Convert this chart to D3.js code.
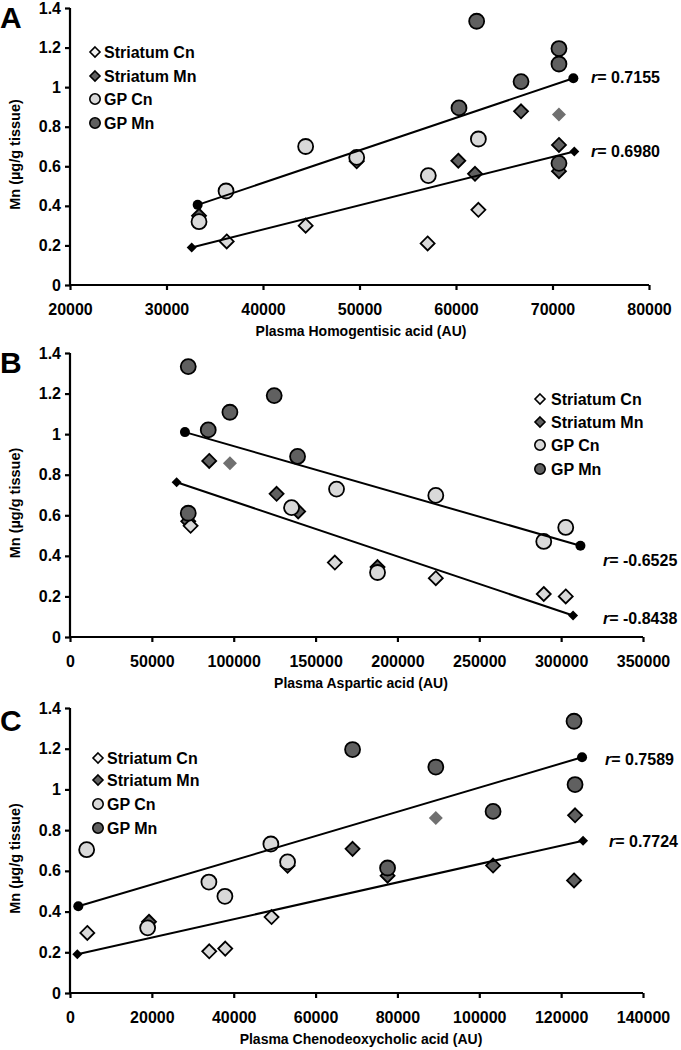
<!DOCTYPE html>
<html>
<head>
<meta charset="utf-8">
<script src="https://cdn.jsdelivr.net/npm/d3@7/dist/d3.min.js"></script>
<style>
  html, body { margin: 0; padding: 0; background: #fff; }
  svg { display: block; }
  text { font-family: "Liberation Sans", Arial, sans-serif; font-weight: bold; fill: #000; }
</style>
</head>
<body>
<div id="chart"></div>
<script>
// ---------- Data ----------
const seriesNames = ["Striatum Cn", "Striatum Mn", "GP Cn", "GP Mn"];
const yTicks = [0, 0.2, 0.4, 0.6, 0.8, 1, 1.2, 1.4];

// Panel A – Plasma Homogentisic acid
const aXTicks = [20000, 30000, 40000, 50000, 60000, 70000, 80000];
const aStriatumCn = [[36240,0.22],[44420,0.30],[62320,0.38],[57060,0.21]];
const aStriatumMn = [[33370,0.35],[49710,0.625],[60240,0.628],[61970,0.562],[66740,0.878],[70670,0.708],[70670,0.575]];
const aStriatumMnOutlier = [[70670,0.862]];
const aGPCn = [[33370,0.32],[36170,0.475],[44420,0.70],[49710,0.645],[57130,0.553],[62320,0.738]];
const aGPMn = [[62140,1.333],[70670,1.195],[70670,1.117],[66740,1.028],[60310,0.895],[70670,0.615]];
const aGPFit = [[33230,0.405],[72160,1.045]];
const aStriatumFit = [[32610,0.19],[72260,0.675]];
const aR = ["0.7155", "0.6980"];

// Panel B – Plasma Aspartic acid
const bXTicks = [0, 50000, 100000, 150000, 200000, 250000, 300000, 350000];
const bStriatumCn = [[73670,0.548],[161780,0.367],[223440,0.29],[289380,0.212],[302810,0.20]];
const bStriatumMn = [[72230,0.57],[85040,0.868],[126200,0.706],[139370,0.619],[187850,0.345]];
const bStriatumMnOutlier = [[97680,0.856]];
const bGPCn = [[135330,0.638],[162810,0.729],[187850,0.318],[223440,0.698],[289380,0.471],[302810,0.54]];
const bGPMn = [[72230,1.333],[124730,1.19],[97680,1.108],[84440,1.021],[139000,0.89],[72230,0.61]];
const bGPFit = [[70210,1.01],[311780,0.45]];
const bStriatumFit = [[65140,0.763],[307280,0.106]];
const bR = ["-0.6525", "-0.8438"];

// Panel C – Plasma Chenodeoxycholic acid
const cXTicks = [0, 20000, 40000, 60000, 80000, 100000, 120000, 140000];
const cStriatumCn = [[4230,0.295],[34020,0.205],[37930,0.218],[49250,0.373]];
const cStriatumMn = [[19300,0.35],[53160,0.625],[69040,0.708],[77590,0.576],[103370,0.626],[123400,0.873],[123150,0.553]];
const cStriatumMnOutlier = [[89380,0.86]];
const cGPCn = [[4070,0.704],[18970,0.32],[33940,0.545],[37850,0.475],[49080,0.732],[53160,0.644]];
const cGPMn = [[123150,1.335],[69040,1.196],[89380,1.11],[123400,1.024],[103370,0.892],[77590,0.614]];
const cGPFit = [[2030,0.426],[125110,1.158]];
const cStriatumFit = [[1790,0.19],[125360,0.748]];
const cR = ["0.7589", "0.7724"];

// ---------- Drawing ----------
const W = 681, H = 1050;
const svg = d3.select("#chart").append("svg").attr("width", W).attr("height", H);

const DARK = "#606060", LIGHT = "#d9d9d9", OUT = "#707070";
const diamond = s => `M0,${-s}L${s},0L0,${s}L${-s},0Z`;

function panel(cfg) {
  const x = d3.scaleLinear().domain(cfg.xDomain).range(cfg.xRange);
  const y = d3.scaleLinear().domain([0, 1.4]).range(cfg.yRange);
  const g = svg.append("g");

  // axes
  const xAxis = d3.axisBottom(x).tickValues(cfg.xTicks).tickSize(5).tickPadding(14).tickFormat(d3.format("d"));
  const yAxis = d3.axisLeft(y).tickValues(yTicks).tickSize(5).tickPadding(4).tickFormat(d => String(+d.toFixed(1)));
  const gx = g.append("g").attr("transform", `translate(0,${cfg.yRange[0]})`).call(xAxis);
  const gy = g.append("g").attr("transform", `translate(${cfg.xRange[0]},0)`).call(yAxis);
  [gx, gy].forEach(a => {
    a.select(".domain").attr("stroke", "#000").attr("stroke-width", 2.2);
    a.selectAll(".tick line").attr("stroke", "#000").attr("stroke-width", 2.2);
    a.selectAll("text").attr("font-size", 16).attr("font-family", '"Liberation Sans", Arial, sans-serif').attr("font-weight", "bold").attr("fill", "#000");
  });
  gx.select(".domain").attr("d", `M${cfg.xRange[0]},0H${cfg.xRange[1]}`);
  gy.select(".domain").attr("d", `M0,${cfg.yRange[0]}V${cfg.yRange[1]}`);

  // axis titles
  g.append("text").attr("x", 361).attr("y", cfg.yRange[0] + 51).attr("text-anchor", "middle")
    .attr("font-size", 14).text(cfg.xTitle);
  const cy = (cfg.yRange[0] + cfg.yRange[1]) / 2 + 8;
  g.append("text").attr("transform", `translate(20,${cy}) rotate(-90)`).attr("text-anchor", "middle")
    .attr("font-size", 14.5).text("Mn (µg/g tissue)");

  // panel letter
  g.append("text").attr("x", 0).attr("y", cfg.letterY).attr("font-size", 30).text(cfg.letter);

  // markers
  const pts = g.append("g");
  const drawDiamonds = (data, fill, stroke) => pts.selectAll(null).data(data).enter().append("path")
    .attr("d", diamond(7)).attr("transform", d => `translate(${x(d[0])},${y(d[1])})`)
    .attr("fill", fill).attr("stroke", stroke ? "#000" : "none").attr("stroke-width", 1.8);
  const drawCircles = (data, fill) => pts.selectAll(null).data(data).enter().append("circle")
    .attr("cx", d => x(d[0])).attr("cy", d => y(d[1])).attr("r", 7.5)
    .attr("fill", fill).attr("stroke", "#000").attr("stroke-width", 1.8);

  drawDiamonds(cfg.sMn, DARK, true);
  drawDiamonds(cfg.sOut, OUT, false);
  drawDiamonds(cfg.sCn, LIGHT, true);
  drawCircles(cfg.gCn, LIGHT);
  drawCircles(cfg.gMn, DARK);

  // fit lines
  const line = d3.line().x(d => x(d[0])).y(d => y(d[1]));
  [cfg.gFit, cfg.sFit].forEach(f => g.append("path").attr("d", line(f)).attr("stroke", "#000")
    .attr("stroke-width", 2).attr("fill", "none"));
  g.selectAll(null).data(cfg.gFit).enter().append("circle")
    .attr("cx", d => x(d[0])).attr("cy", d => y(d[1])).attr("r", 5).attr("fill", "#000");
  g.selectAll(null).data(cfg.sFit).enter().append("path")
    .attr("d", diamond(5)).attr("transform", d => `translate(${x(d[0])},${y(d[1])})`).attr("fill", "#000");

  // r labels
  cfg.rPos.forEach((p, i) => {
    const t = g.append("text").attr("x", p[0]).attr("y", p[1] + 6).attr("font-size", 16);
    t.append("tspan").attr("font-style", "italic").text("r");
    t.append("tspan").text("= " + cfg.r[i]);
  });

  // legend
  const lg = g.append("g");
  const L = cfg.legend;
  seriesNames.forEach((name, i) => {
    const ly = L.ys[i];
    if (i < 2) {
      lg.append("path").attr("d", diamond(5)).attr("transform", `translate(${L.mx},${ly})`)
        .attr("fill", i === 0 ? "#f2f2f2" : DARK).attr("stroke", "#000").attr("stroke-width", 1.6);
    } else {
      lg.append("circle").attr("cx", L.mx).attr("cy", ly).attr("r", 5.2)
        .attr("fill", i === 2 ? LIGHT : DARK).attr("stroke", "#000").attr("stroke-width", 1.6);
    }
    lg.append("text").attr("x", L.tx).attr("y", ly + 5.5).attr("font-size", 16).text(name);
  });
}

panel({
  letter: "A", letterY: 28,
  xDomain: [20000, 80000], xRange: [70, 649], yRange: [285, 8], xTicks: aXTicks,
  xTitle: "Plasma Homogentisic acid (AU)",
  sCn: aStriatumCn, sMn: aStriatumMn, sOut: aStriatumMnOutlier, gCn: aGPCn, gMn: aGPMn,
  gFit: aGPFit, sFit: aStriatumFit, r: aR, rPos: [[591, 77], [591, 151]],
  legend: { mx: 95, tx: 104, ys: [52, 76, 99, 123] }
});

panel({
  letter: "B", letterY: 373,
  xDomain: [0, 350000], xRange: [70, 643], yRange: [637, 353], xTicks: bXTicks,
  xTitle: "Plasma Aspartic acid (AU)",
  sCn: bStriatumCn, sMn: bStriatumMn, sOut: bStriatumMnOutlier, gCn: bGPCn, gMn: bGPMn,
  gFit: bGPFit, sFit: bStriatumFit, r: bR, rPos: [[603, 560], [603, 618]],
  legend: { mx: 540, tx: 551, ys: [399, 422, 445, 469] }
});

panel({
  letter: "C", letterY: 731,
  xDomain: [0, 140000], xRange: [70, 643], yRange: [993, 708], xTicks: cXTicks,
  xTitle: "Plasma Chenodeoxycholic acid (AU)",
  sCn: cStriatumCn, sMn: cStriatumMn, sOut: cStriatumMnOutlier, gCn: cGPCn, gMn: cGPMn,
  gFit: cGPFit, sFit: cStriatumFit, r: cR, rPos: [[605, 759], [609, 841]],
  legend: { mx: 98, tx: 107, ys: [758, 780, 804, 828] }
});
</script>
</body>
</html>
